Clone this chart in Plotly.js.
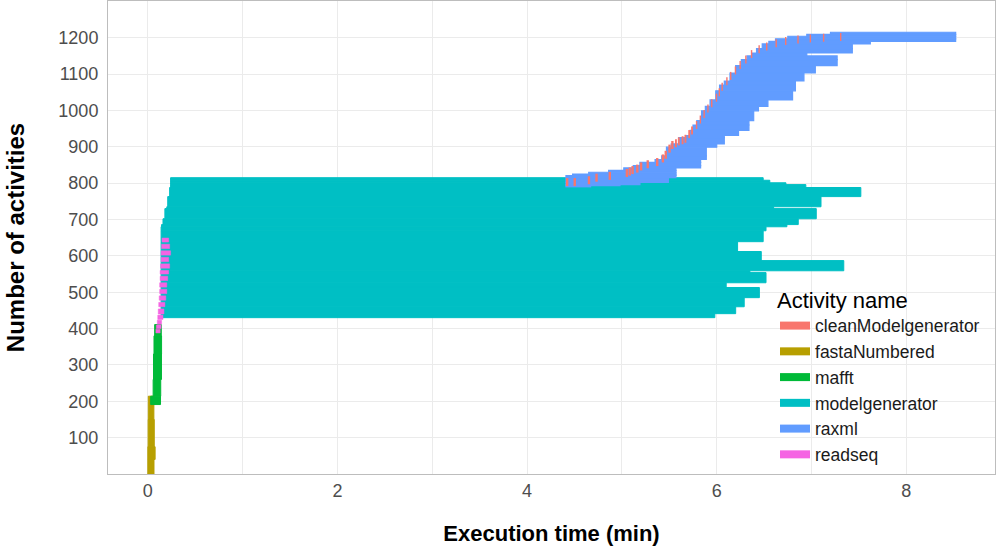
<!DOCTYPE html>
<html><head><meta charset="utf-8">
<script src="https://cdn.plot.ly/plotly-3.0.1.min.js"></script>
<style>html,body{margin:0;padding:0;background:#fff}#chart{width:996px;height:550px}</style>
</head><body><div id="chart"></div>
<script>
// Activity names and colours (legend order)
const activityNames = ['cleanModelgenerator','fastaNumbered','mafft','modelgenerator','raxml','readseq'];
const activityColors = ['#F8766D','#B79F00','#00BA38','#00BFC4','#619CFF','#F564E3'];

// fastaNumbered: activity index range (lo..hi), start and end time (min)
const fastaYLo   = [0, 40, 75, 150];
const fastaYHi   = [40, 75, 150, 214];
const fastaStart = [0.0, 0.0, 0.003, 0.005];
const fastaEnd   = [0.065, 0.077, 0.068, 0.064];

// mafft
const mafftYLo   = [191, 214, 260, 330, 380];
const mafftYHi   = [214, 260, 330, 380, 411];
const mafftStart = [0.03, 0.056, 0.06, 0.065, 0.072];
const mafftEnd   = [0.134, 0.136, 0.144, 0.145, 0.142];

// modelgenerator
const modelYLo   = [430, 441, 460, 485, 513, 526, 554, 559, 587, 612, 639, 669, 680, 686, 702, 730, 735, 763, 788, 796, 801, 808];
const modelYHi   = [441, 460, 485, 513, 526, 554, 559, 587, 612, 639, 669, 680, 686, 702, 730, 735, 763, 788, 796, 801, 808, 815];
const modelStart = [0.14, 0.14, 0.14, 0.14, 0.14, 0.14, 0.14, 0.14, 0.14, 0.14, 0.14, 0.14, 0.145, 0.16, 0.18, 0.2, 0.21, 0.23, 0.24, 0.24, 0.24, 0.24];
const modelEnd   = [5.98, 6.20, 6.29, 6.45, 6.10, 6.52, 6.35, 7.34, 6.47, 6.22, 6.49, 6.52, 6.74, 6.86, 7.05, 6.60, 7.10, 7.52, 6.94, 6.73, 6.56, 6.49];

// raxml
const raxmlYLo   = [790, 793, 796, 802, 815, 821, 825, 830, 835, 842, 848, 857, 865, 875, 899, 908, 925, 931, 945, 960, 972, 999, 1011, 1029, 1054, 1070, 1081, 1103, 1123, 1140, 1150, 1158, 1170, 1183, 1190, 1197, 1204, 1209];
const raxmlYHi   = [793, 796, 802, 815, 821, 825, 830, 835, 842, 848, 857, 865, 875, 899, 908, 925, 931, 945, 960, 972, 999, 1011, 1029, 1054, 1070, 1081, 1103, 1123, 1140, 1150, 1158, 1170, 1183, 1190, 1197, 1204, 1209, 1215];
const raxmlStart = [4.41, 4.41, 4.41, 4.41, 4.41, 4.48, 4.65, 4.86, 5.02, 5.12, 5.19, 5.35, 5.42, 5.47, 5.52, 5.60, 5.68, 5.72, 5.75, 5.79, 5.84, 5.88, 5.93, 5.99, 6.03, 6.08, 6.14, 6.20, 6.26, 6.32, 6.37, 6.42, 6.48, 6.55, 6.62, 6.75, 6.95, 7.20];
const raxmlEnd   = [4.67, 4.98, 5.19, 5.49, 5.57, 5.57, 5.57, 5.57, 5.57, 5.83, 5.83, 5.83, 5.89, 5.89, 6.00, 6.08, 6.08, 6.23, 6.34, 6.34, 6.39, 6.44, 6.54, 6.80, 6.83, 6.83, 6.92, 7.04, 7.27, 7.27, 6.95, 7.43, 7.43, 7.62, 8.52, 8.52, 8.52, 8.52];

// cleanModelgenerator: activity position (centre) and start/end time
const cleanY     = [803, 803, 808, 815, 820, 828, 832, 836, 840, 846, 852, 858, 868, 878, 895, 905, 910, 915, 918, 922, 935, 945, 960, 975, 990, 1005, 1020, 1035, 1050, 1065, 1080, 1095, 1110, 1125, 1140, 1155, 1168, 1176, 1185, 1191, 1195, 1198, 1200, 1202];
const cleanStart = [4.41, 4.49, 4.64, 4.72, 4.86, 5.04, 5.07, 5.10, 5.15, 5.19, 5.26, 5.36, 5.42, 5.45, 5.49, 5.52, 5.56, 5.59, 5.63, 5.66, 5.70, 5.73, 5.78, 5.82, 5.86, 5.90, 5.94, 5.99, 6.02, 6.05, 6.10, 6.14, 6.19, 6.24, 6.30, 6.36, 6.44, 6.52, 6.62, 6.72, 6.85, 6.98, 7.12, 7.30];
const cleanEnd   = [4.435, 4.515, 4.665, 4.745, 4.885, 5.065, 5.095, 5.125, 5.175, 5.215, 5.285, 5.385, 5.445, 5.475, 5.515, 5.545, 5.58, 5.61, 5.65, 5.68, 5.72, 5.75, 5.795, 5.835, 5.875, 5.915, 5.955, 6.005, 6.035, 6.065, 6.115, 6.155, 6.205, 6.255, 6.315, 6.375, 6.455, 6.535, 6.635, 6.735, 6.865, 6.995, 7.135, 7.315];

// readseq
const readYLo   = [388, 400, 412, 425, 440, 460, 478, 496, 514, 532, 550, 566, 584, 602, 620, 638];
const readYHi   = [398, 410, 423, 437, 454, 472, 490, 508, 526, 544, 560, 578, 596, 614, 632, 649];
const readStart = [0.085, 0.09, 0.10, 0.105, 0.11, 0.115, 0.12, 0.125, 0.125, 0.13, 0.13, 0.135, 0.14, 0.14, 0.145, 0.15];
const readEnd   = [0.13, 0.14, 0.145, 0.16, 0.17, 0.18, 0.19, 0.20, 0.20, 0.21, 0.22, 0.23, 0.22, 0.24, 0.23, 0.22];

const xTickVals = [0, 2, 4, 6, 8];
const yTickVals = [100, 200, 300, 400, 500, 600, 700, 800, 900, 1000, 1100, 1200];

function bandTrace(idx, lo, hi, start, end, edge) {
  return {
    type: 'bar', orientation: 'h',
    y: lo.map((v, i) => (v + hi[i]) / 2),
    width: lo.map((v, i) => hi[i] - v),
    base: start,
    x: end.map((e, i) => e - start[i]),
    marker: {color: activityColors[idx], line: {width: edge, color: activityColors[idx]}},
    name: activityNames[idx], showlegend: false, hoverinfo: 'skip'
  };
}
const LINE_THICK = 22;
const cleanTrace = bandTrace(0, cleanY.map(v => v - LINE_THICK / 2), cleanY.map(v => v + LINE_THICK / 2), cleanStart, cleanEnd, 0);

const traces = [
  bandTrace(1, fastaYLo, fastaYHi, fastaStart, fastaEnd, 1),
  bandTrace(2, mafftYLo, mafftYHi, mafftStart, mafftEnd, 1),
  bandTrace(3, modelYLo, modelYHi, modelStart, modelEnd, 1),
  bandTrace(4, raxmlYLo, raxmlYHi, raxmlStart, raxmlEnd, 1.2),
  cleanTrace,
  bandTrace(5, readYLo, readYHi, readStart, readEnd, 0.5)
];
// legend entries
activityNames.forEach((n, i) => {
  traces.push({type: 'scatter', mode: 'lines', x: [null], y: [null], name: n,
    line: {color: activityColors[i], width: 8}, legendrank: i + 1, hoverinfo: 'skip'});
});

const FONT = 'Liberation Sans, Arial, sans-serif';
const layout = {
  width: 996, height: 550,
  margin: {l: 108, r: 1, t: 1, b: 76},
  paper_bgcolor: '#ffffff', plot_bgcolor: '#ffffff',
  barmode: 'overlay',
  font: {family: FONT, color: '#4d4d4d'},
  xaxis: {
    range: [-0.42, 8.935], tickvals: xTickVals, ticktext: xTickVals.map(String),
    showgrid: true, gridcolor: '#ebebeb', gridwidth: 1,
    minor: {dtick: 1, tick0: 0, showgrid: true, gridcolor: '#ebebeb', gridwidth: 1},
    zeroline: false, showline: true, mirror: true, linecolor: '#bdbdbd', linewidth: 1,
    ticks: '',
    tickfont: {size: 18, color: '#4d4d4d', family: FONT},
    title: {text: '<b>Execution time (min)</b>', font: {size: 22, color: '#000', family: FONT}, standoff: 26}
  },
  yaxis: {
    range: [0, 1301], tickvals: yTickVals, ticktext: yTickVals.map(String),
    showgrid: true, gridcolor: '#ebebeb', gridwidth: 1,
    zeroline: false, showline: true, mirror: true, linecolor: '#bdbdbd', linewidth: 1,
    ticks: 'outside', ticklen: 5, tickcolor: 'rgba(0,0,0,0)',
    tickfont: {size: 18, color: '#4d4d4d', family: FONT},
    title: {text: '<b>Number of activities</b>', font: {size: 24, color: '#000', family: FONT}, standoff: 26}
  },
  legend: {
    x: 0.752, y: 0.412, xanchor: 'left', yanchor: 'top',
    bgcolor: 'rgba(0,0,0,0)', borderwidth: 0,
    font: {size: 17.5, color: '#1a1a1a', family: FONT},
    title: {text: 'Activity name', font: {size: 22, color: '#000', family: FONT}},
    traceorder: 'normal'
  },
  showlegend: true
};
Plotly.newPlot('chart', traces, layout, {displayModeBar: false, staticPlot: true});
</script></body></html>
